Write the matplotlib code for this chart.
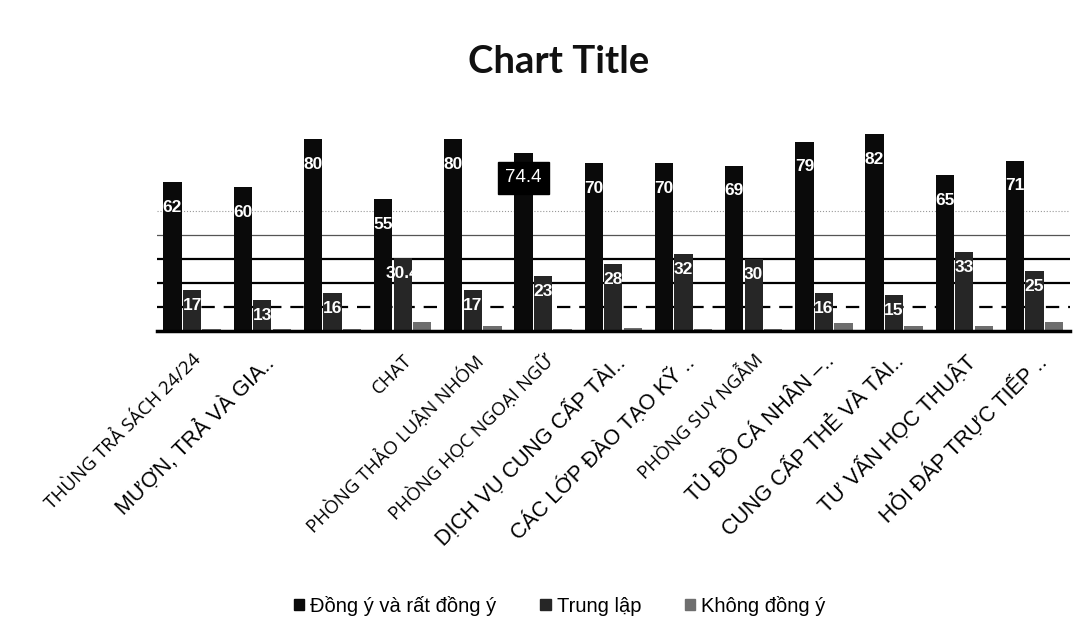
import matplotlib.pyplot as plt
import numpy as np
from matplotlib.patches import Patch

# data
categories = ['THÙNG TRẢ SÁCH 24/24', 'MƯỢN, TRẢ VÀ GIA..', '', 'CHAT',
              'PHÒNG THẢO LUẬN NHÓM', 'PHÒNG HỌC NGOẠI NGỮ', 'DỊCH VỤ CUNG CẤP TÀI..',
              'CÁC LỚP ĐÀO TẠO KỸ ..', 'PHÒNG SUY NGẪM', 'TỦ ĐỒ CÁ NHÂN –..',
              'CUNG CẤP THẺ VÀ TÀI..', 'TƯ VẤN HỌC THUẬT', 'HỎI ĐÁP TRỰC TIẾP ..']
big_label = [False, True, False, False, False, False, True, True, False, True, True, True, True]
dong_y = [62, 60, 80, 55, 80, 74.4, 70, 70, 69, 79, 82, 65, 71]
trung_lap = [17, 13, 16, 30.4, 17, 23, 28, 32, 30, 16, 15, 33, 25]
khong_dong_y = [1, 1, 1, 4, 2, 1, 1.5, 1, 1, 3.5, 2, 2, 4]
series_names = ['Đồng ý và rất đồng ý', 'Trung lập', 'Không đồng ý']
colors = ['#0a0a0a', '#262626', '#6e6e6e']

fig = plt.figure(figsize=(10.87, 6.37), dpi=100)
ax = fig.add_axes([0.1444, 0.480, 0.8396, 0.339])

x = np.arange(len(categories))
w = 0.26
off = 0.278

# gridlines (scanned look: dashed, solid, faint)
ax.axhline(10, color='black', lw=1.6, ls=(0, (6, 4)), zorder=0)
ax.axhline(20, color='black', lw=1.6, zorder=0)
ax.axhline(30, color='black', lw=1.6, zorder=0)
ax.axhline(40, color='#555555', lw=0.9, zorder=0)
ax.axhline(50, color='#999999', lw=0.8, ls=':', zorder=0)

b1 = ax.bar(x - off, dong_y, w, color=colors[0], zorder=2)
b2 = ax.bar(x, trung_lap, w, color=colors[1], zorder=2)
b3 = ax.bar(x + off, khong_dong_y, w, color=colors[2], zorder=2)

for xi, v in zip(x - off, dong_y):
    txt = f'{v:g}'
    if v == 74.4:
        ax.annotate(txt, (xi, v), xytext=(0, -18), textcoords='offset points',
                    ha='center', va='center', color='white', fontsize=13.5,
                    fontfamily='Liberation Sans', zorder=4,
                    bbox=dict(boxstyle='square,pad=0.4', fc='black', ec='black'))
    else:
        ax.annotate(txt, (xi, v), xytext=(0, -18), textcoords='offset points',
                    ha='center', va='center', color='white', fontsize=12.5,
                    fontweight='bold', fontfamily='Liberation Sans', zorder=4)
for xi, v in zip(x, trung_lap):
    ax.annotate(f'{v:g}', (xi, v), xytext=(0, -11), textcoords='offset points',
                ha='center', va='center', color='white', fontsize=12.5,
                fontweight='bold', fontfamily='Liberation Sans', zorder=4)

ax.set_xlim(-0.5, len(categories) - 0.5)
ax.set_ylim(0, 90)
ax.set_yticks([])
ax.set_xticks(x)
ax.set_xticklabels(categories)
for lbl, big in zip(ax.get_xticklabels(), big_label):
    lbl.set_rotation(45)
    lbl.set_ha('right')
    lbl.set_va('top')
    lbl.set_rotation_mode('anchor')
    if big:
        lbl.set_fontsize(15.5)
        lbl.set_fontfamily('Liberation Sans')
    else:
        lbl.set_fontsize(13.5)
        lbl.set_fontfamily('Open Sans')
ax.tick_params(axis='x', length=0, pad=14)
for s in ['top', 'right', 'left']:
    ax.spines[s].set_visible(False)
ax.spines['bottom'].set_linewidth(2.5)

fig.text(0.514, 0.903, 'Chart Title', ha='center', va='center', fontsize=27.5,
         fontweight='bold', fontfamily='Lato', color='#111111')

handles = [Patch(color=c) for c in colors]
fig.legend(handles, series_names, loc='center', bbox_to_anchor=(0.515, 0.049),
           ncol=3, frameon=False, prop={'family': 'Liberation Sans', 'size': 14.5},
           handlelength=0.5, handleheight=0.5, handletextpad=0.3, columnspacing=2.2)

fig.savefig('out.png', dpi=100, facecolor='white')
